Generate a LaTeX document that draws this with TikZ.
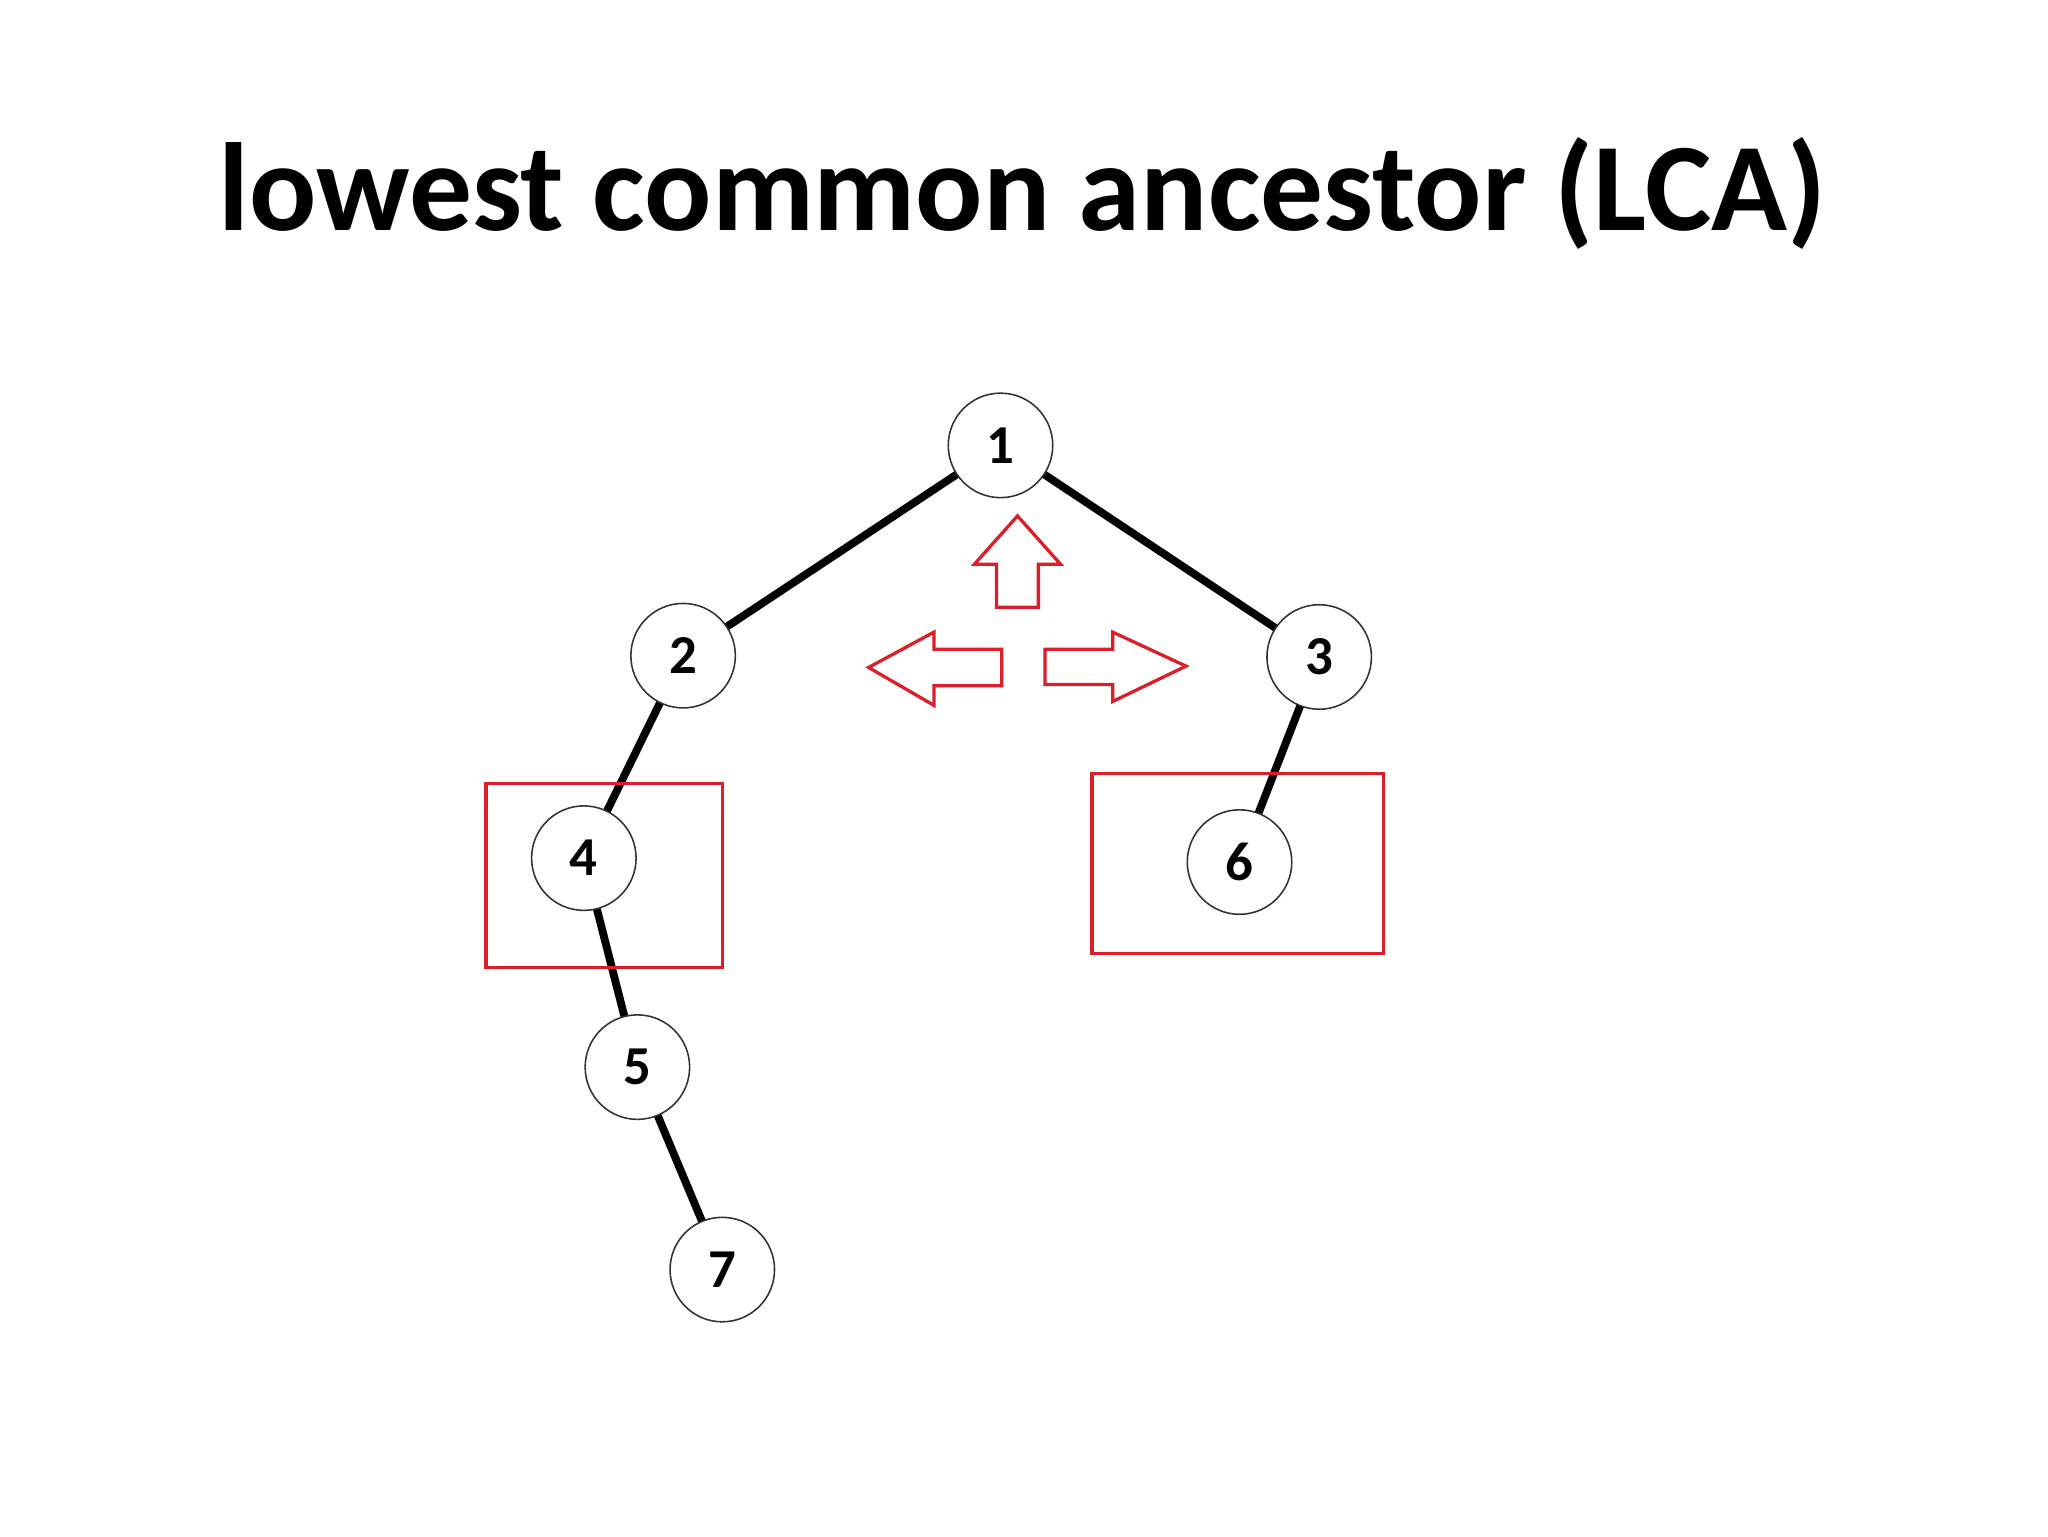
\documentclass[tikz,border=0pt]{standalone}
\usepackage{fontspec}
\setmainfont{Carlito}
\begin{document}
\begin{tikzpicture}[x=1pt,y=-1pt,
  tn/.style={circle,draw=black!80,line width=1.2pt,fill=white,minimum size=80pt,inner sep=0pt,font=\fontsize{42}{42}\selectfont\bfseries},
  ed/.style={line width=6pt,black},
  rb/.style={draw={rgb,255:red,220;green,30;blue,40},line width=2.5pt},
  ra/.style={draw={rgb,255:red,220;green,30;blue,40},line width=2.5pt,line join=miter}]
\useasboundingbox (0,0) rectangle (1568,1176);
\node[font=\fontsize{96}{104}\selectfont\bfseries] (title) at (783,148) {lowest common ancestor (LCA)};
\coordinate (n1) at (766,341);
\coordinate (n2) at (523,502);
\coordinate (n3) at (1010,503);
\coordinate (n4) at (447,657);
\coordinate (n5) at (488,817);
\coordinate (n7) at (553,972);
\coordinate (n6) at (949,660);
\draw[ed] (n1) -- (n2);
\draw[ed] (n1) -- (n3);
\draw[ed] (n2) -- (n4);
\draw[ed] (n4) -- (n5);
\draw[ed] (n5) -- (n7);
\draw[ed] (n3) -- (n6);
\node[tn] (c1) at (n1) {1};
\node[tn] (c2) at (n2) {2};
\node[tn] (c3) at (n3) {3};
\node[tn] (c4) at (n4) {4};
\node[tn] (c5) at (n5) {5};
\node[tn] (c7) at (n7) {7};
\node[tn] (c6) at (n6) {6};
\draw[rb] (372,600) rectangle (553,741);
\draw[rb] (836,592) rectangle (1059,730);
\draw[ra] (779,395) -- (812,432) -- (795,432) -- (795,465) -- (763,465) -- (763,432) -- (746,432) -- cycle;
\draw[ra] (665,511) -- (715,484) -- (715,497) -- (767,497) -- (767,525) -- (715,525) -- (715,540) -- cycle;
\draw[ra] (908,510) -- (852,484) -- (852,497) -- (800,497) -- (800,524) -- (852,524) -- (852,537) -- cycle;
\end{tikzpicture}
\end{document}
